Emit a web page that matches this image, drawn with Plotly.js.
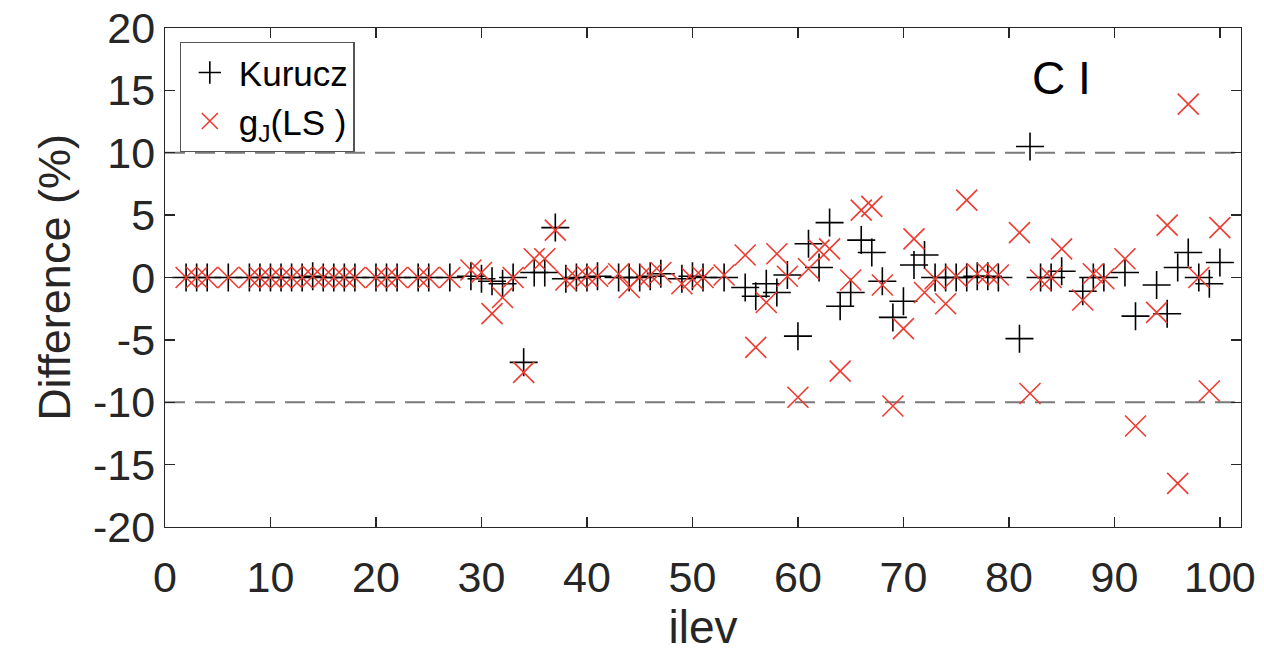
<!DOCTYPE html>
<html>
<head>
<meta charset="utf-8">
<script src="https://cdn.plot.ly/plotly-3.0.1.min.js"></script>
<style>html,body{margin:0;padding:0;background:#fff;}#chart{width:1264px;height:663px;}</style>
</head>
<body>
<div id="chart"></div>
<script>
// ilev levels
const ilev = [2,3,4,6,8,9,10,11,12,13,14,15,16,17,18,20,21,22,24,25,27,
  29,30,31,32,33,34,35,36,37,38,39,40,41,43,44,45,46,47,49,50,51,53,
  55,56,57,58,59,60,61,62,63,64,65,66,67,68,69,70,71,72,73,74,75,76,77,78,79,
  81,82,83,84,85,87,88,89,91,92,94,95,96,97,98,99,100];

// Difference (%) : Kurucz
const kurucz = [0,0,0,0,0,0,0,0,0,0,0.1,0,0,0,0,0,0,0,0,0,0,
  0.1,-0.1,-0.3,-0.5,0.0,-6.8,0.4,0.4,4.0,-0.1,0,0,0.1,0,0,0,0.1,0.3,-0.1,0.1,0,0,
  -0.8,-1.5,-0.5,-1.2,0.2,-4.7,2.7,0.8,4.4,-2.3,-1.2,3.0,2.0,-0.3,-3.2,-1.9,1.0,1.8,0,0,0,0,0.1,0.1,0,
  -4.9,10.5,0,0,0.5,-1.1,0,0,0.4,-3.1,-0.6,-2.9,0.8,2.0,0,-0.5,1.2];

// Difference (%) : gJ(LS)
const gjLS = [0,0,0,0,0,0,0,0,0,0,0.1,0,0,0,0,0,0,0,0,0,0,
  0.6,0.4,-2.9,-1.6,0,-7.6,1.5,1.5,3.8,-0.2,0,0.1,0.1,0.3,-0.8,0,0.2,0.4,-0.5,-0.1,0,0.2,
  1.8,-5.6,-2.0,1.9,0.1,-9.6,0.7,2.2,2.3,-7.5,-0.2,5.4,5.7,-0.6,-10.3,-4.1,3.1,-1.2,-0.1,-2.1,0.1,6.2,0.3,0.3,0.2,
  3.6,-9.3,-0.2,0,2.3,-1.8,0.3,-0.1,1.5,-11.9,-2.8,4.2,-16.5,13.9,0,-9.1,4.0];

const thresholds = [10, -10];
const seriesNames = ['Kurucz', 'g<sub>J</sub>(LS )'];
const panelLabel = 'C I';

// tick labels
const xTickVals = [0,10,20,30,40,50,60,70,80,90,100];
const xTickText = ['0','10','20','30','40','50','60','70','80','90','100'];
const yTickVals = [-20,-15,-10,-5,0,5,10,15,20];
const yTickText = ['-20','-15','-10','-5','0','5','10','15','20'];

const FONT = '"Liberation Sans", Arial, Helvetica, sans-serif';
const TXT = '#262626';

const traces = [
  {
    x: ilev, y: kurucz, type: 'scatter', mode: 'markers', name: seriesNames[0],
    marker: {symbol: 'cross-thin', size: 20, color: '#000', line: {color: '#000', width: 1.6}}
  },
  {
    x: ilev, y: gjLS, type: 'scatter', mode: 'markers', name: seriesNames[1],
    marker: {symbol: 'x-thin', size: 21, color: '#ee3b30', line: {color: '#ee3b30', width: 1.6}}
  }
];

const shapes = thresholds.map(v => ({
  type: 'line', xref: 'paper', x0: 0, x1: 1, yref: 'y', y0: v, y1: v,
  line: {color: '#7a7a7a', width: 2, dash: '20px,10px'}, layer: 'below'
}));

const axisCommon = {
  showline: true, linecolor: '#262626', linewidth: 1.3, mirror: 'ticks',
  ticks: 'inside', ticklen: 10, tickwidth: 1.3, tickcolor: '#262626',
  showgrid: false, zeroline: false, tickmode: 'array',
  tickfont: {family: FONT, size: 43, color: TXT}
};

const layout = {
  width: 1264, height: 663,
  margin: {l: 165, r: 23, t: 28, b: 136},
  paper_bgcolor: '#fff', plot_bgcolor: '#fff',
  showlegend: true,
  legend: {
    x: 0.0135, y: 0.972, xanchor: 'left', yanchor: 'top',
    bgcolor: '#fff', bordercolor: '#555', borderwidth: 1.3,
    font: {family: FONT, size: 35, color: '#000'},
    itemwidth: 48, tracegroupgap: 4
  },
  xaxis: Object.assign({}, axisCommon, {
    range: [0, 102], tickvals: xTickVals, ticktext: xTickText, ticklabelstandoff: 12,
    title: {text: 'ilev', font: {family: FONT, size: 46, color: TXT}, standoff: 10}
  }),
  yaxis: Object.assign({}, axisCommon, {
    range: [-20, 20], tickvals: yTickVals, ticktext: yTickText,
    title: {text: 'Difference (%)', font: {family: FONT, size: 45, color: TXT}, standoff: 8}
  }),
  shapes: shapes,
  annotations: [{
    text: panelLabel, xref: 'paper', yref: 'paper', x: 0.833, y: 0.9, xanchor: 'center', yanchor: 'middle',
    showarrow: false, font: {family: FONT, size: 46, color: '#000'}
  }]
};

Plotly.newPlot('chart', traces, layout, {staticPlot: true, displayModeBar: false});
</script>
</body>
</html>
